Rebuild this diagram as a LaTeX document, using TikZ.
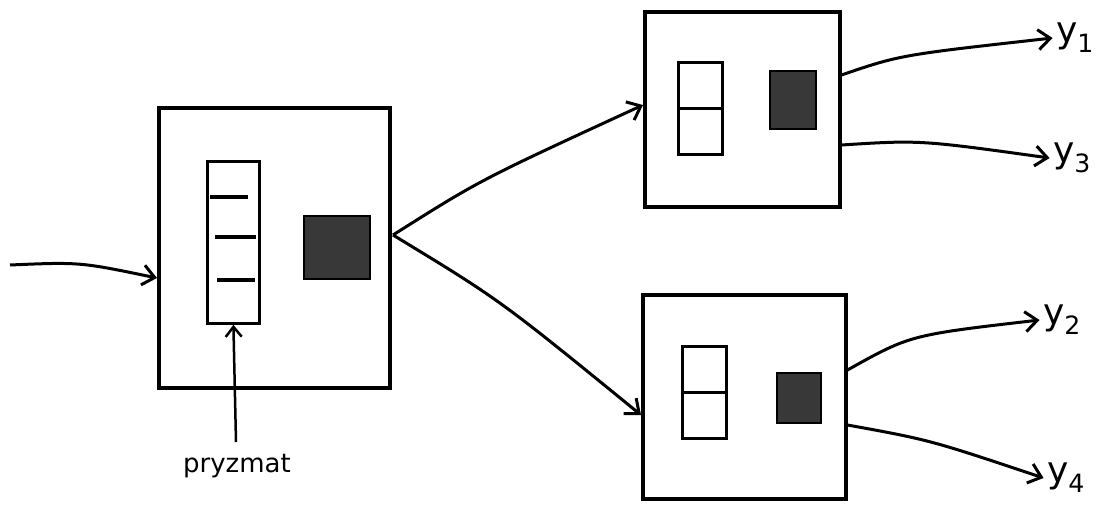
\documentclass[tikz,border=0pt]{standalone}
\usepackage{fontspec}
\setmainfont{DejaVu Sans}
\usetikzlibrary{arrows.meta}
\begin{document}
\begin{tikzpicture}[x=1pt,y=-1pt,
  box/.style={draw,line width=3.5pt},
  inner/.style={draw,line width=2.8pt},
  dark/.style={draw,line width=2pt,fill=black!78},
  conn/.style={line width=3pt,-{Straight Barb[length=12pt,width=20pt,line width=3pt]}},
  lbl/.style={font=\fontsize{36}{38}\selectfont}]
\useasboundingbox (0,0) rectangle (1120,517);
% left box
\node[box,minimum width=231pt,minimum height=280pt,anchor=north west] (L) at (157,106) {};
\node[inner,minimum width=52pt,minimum height=162pt,anchor=north west] (P) at (206,160) {};
\draw[line width=3.5pt] (210,197) -- (248,197);
\draw[line width=3.5pt] (215,237) -- (256,237);
\draw[line width=3.5pt] (217,280) -- (255,280);
\node[dark,minimum width=66pt,minimum height=63pt,anchor=north west] (LD) at (303,215) {};
% top right box
\node[box,minimum width=195pt,minimum height=195pt,anchor=north west] (T) at (643,10) {};
\node[inner,minimum width=44pt,minimum height=92pt,anchor=north west] (TI) at (677,61) {};
\draw[line width=2.8pt] (TI.west) -- (TI.east);
\node[dark,minimum width=46pt,minimum height=58pt,anchor=north west] (TD) at (769,70) {};
% bottom right box
\node[box,minimum width=203pt,minimum height=204pt,anchor=north west] (B) at (641,293) {};
\node[inner,minimum width=44pt,minimum height=92pt,anchor=north west] (BI) at (681,345) {};
\draw[line width=2.8pt] (BI.west) -- (BI.east);
\node[dark,minimum width=44pt,minimum height=50pt,anchor=north west] (BD) at (776,372) {};
% input
\coordinate (in) at (10,265);
\draw[conn] (in) .. controls (80,262) .. (L.west |- 0,278);
% pryzmat
\node[font=\fontsize{26}{28}\selectfont] (pz) at (237,466) {pryzmat};
\draw[line width=2.5pt,-{Straight Barb[length=10pt,width=16pt,line width=2.5pt]}] (236,442) -- (P.south);
% splits
\coordinate (s) at (393,235);
\draw[conn] (s) .. controls (480,180) .. (T.west |- 0,105);
\draw[conn] (s) .. controls (500,300) .. (B.west |- 0,415);
% outputs
\node[lbl] (y1) at (1075,38) {y\textsubscript{1}};
\node[lbl] (y3) at (1072,158) {y\textsubscript{3}};
\node[lbl] (y2) at (1062,320) {y\textsubscript{2}};
\node[lbl] (y4) at (1066,478) {y\textsubscript{4}};
\draw[conn] (T.east |- 0,75) .. controls (900,55) .. (y1.west);
\draw[conn] (T.east |- 0,145) .. controls (920,140) .. (y3.west);
\draw[conn] (B.east |- 0,370) .. controls (910,335) .. (y2.west);
\draw[conn] (B.east |- 0,425) .. controls (930,440) .. (y4.west);
\end{tikzpicture}
\end{document}
